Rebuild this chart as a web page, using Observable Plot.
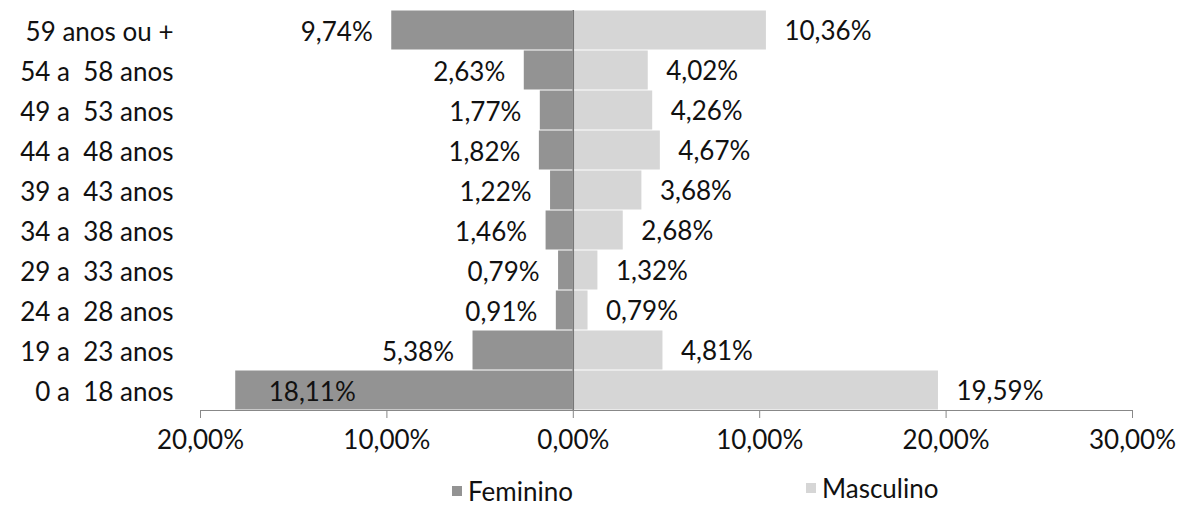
<!DOCTYPE html>
<html>
<head>
<meta charset="utf-8">
<script src="https://cdn.jsdelivr.net/npm/d3@7"></script>
<script src="https://cdn.jsdelivr.net/npm/@observablehq/plot@0.6"></script>
<style>
  body { margin: 0; background: #fff; }
  #wrap { position: relative; width: 1181px; height: 506px; font-family: Lato, sans-serif; color: #111; }
  svg text { white-space: pre; }
  .leg { position: absolute; font-size: 26px; display: flex; align-items: center; }
  .sw { width: 10px; height: 10px; margin-right: 6px; }
</style>
</head>
<body>
<div id="wrap"></div>
<script>
const categories = ["0 a  18 anos","19 a  23 anos","24 a  28 anos","29 a  33 anos","34 a  38 anos","39 a  43 anos","44 a  48 anos","49 a  53 anos","54 a  58 anos","59 anos ou +"];
const feminino  = [18.11, 5.38, 0.91, 0.79, 1.46, 1.22, 1.82, 1.77, 2.63, 9.74];
const masculino = [19.59, 4.81, 0.79, 1.32, 2.68, 3.68, 4.67, 4.26, 4.02, 10.36];
const xTicks = [-20, -10, 0, 10, 20, 30];
const series = ["Feminino", "Masculino"];
const colors = ["#939393", "#d6d6d6"];

const fmt = v => Math.abs(v).toFixed(2).replace(".", ",") + "%";
const rows = categories.flatMap((c, i) => [
  {age: c, sex: "Feminino", value: -feminino[i]},
  {age: c, sex: "Masculino", value: masculino[i]}
]);
const femOut = rows.filter(d => d.sex === "Feminino" && d.value > -15);
const femIn = rows.filter(d => d.sex === "Feminino" && d.value <= -15);
const masc = rows.filter(d => d.sex === "Masculino");

const chart = Plot.plot({
  width: 1181,
  height: 462,
  marginLeft: 200,
  marginRight: 49,
  marginTop: 10,
  marginBottom: 52,
  style: {fontFamily: "Lato, sans-serif", fontSize: "26px", color: "#111", background: "#fff", overflow: "visible"},
  x: {domain: [-20, 30]},
  y: {domain: [...categories].reverse(), padding: 0},
  color: {domain: series, range: colors},
  marks: [
    Plot.barX(rows, {y: "age", x1: 0, x2: "value", fill: "sex", insetTop: 0.5, insetBottom: 0.5}),
    Plot.ruleX([0], {stroke: "#777", strokeWidth: 1.5}),
    Plot.frame({anchor: "bottom", stroke: "#888"}),
    Plot.axisX({ticks: xTicks, tickFormat: fmt, tickSize: 8, tickPadding: 12, stroke: "#888", label: null}),
    Plot.axisY({tickSize: 0, tickPadding: 27, label: null, dy: 2}),
    Plot.text(femOut, {y: "age", x: "value", text: d => fmt(d.value), textAnchor: "end", dx: -19, dy: 2}),
    Plot.text(femIn, {y: "age", x: "value", text: d => fmt(d.value), textAnchor: "start", dx: 33, dy: 2}),
    Plot.text(masc, {y: "age", x: "value", text: d => fmt(d.value), textAnchor: "start", dx: 18, dy: 1})
  ]
});
const wrap = document.getElementById("wrap");
wrap.appendChild(chart);

const legPos = [{left: 452, top: 475}, {left: 806, top: 472}];
series.forEach((s, i) => {
  const item = document.createElement("div");
  item.className = "leg";
  item.style.left = legPos[i].left + "px";
  item.style.top = legPos[i].top + "px";
  const sw = document.createElement("span");
  sw.className = "sw";
  sw.style.background = colors[i];
  const tx = document.createElement("span");
  tx.textContent = s;
  item.appendChild(sw);
  item.appendChild(tx);
  wrap.appendChild(item);
});
</script>
</body>
</html>
